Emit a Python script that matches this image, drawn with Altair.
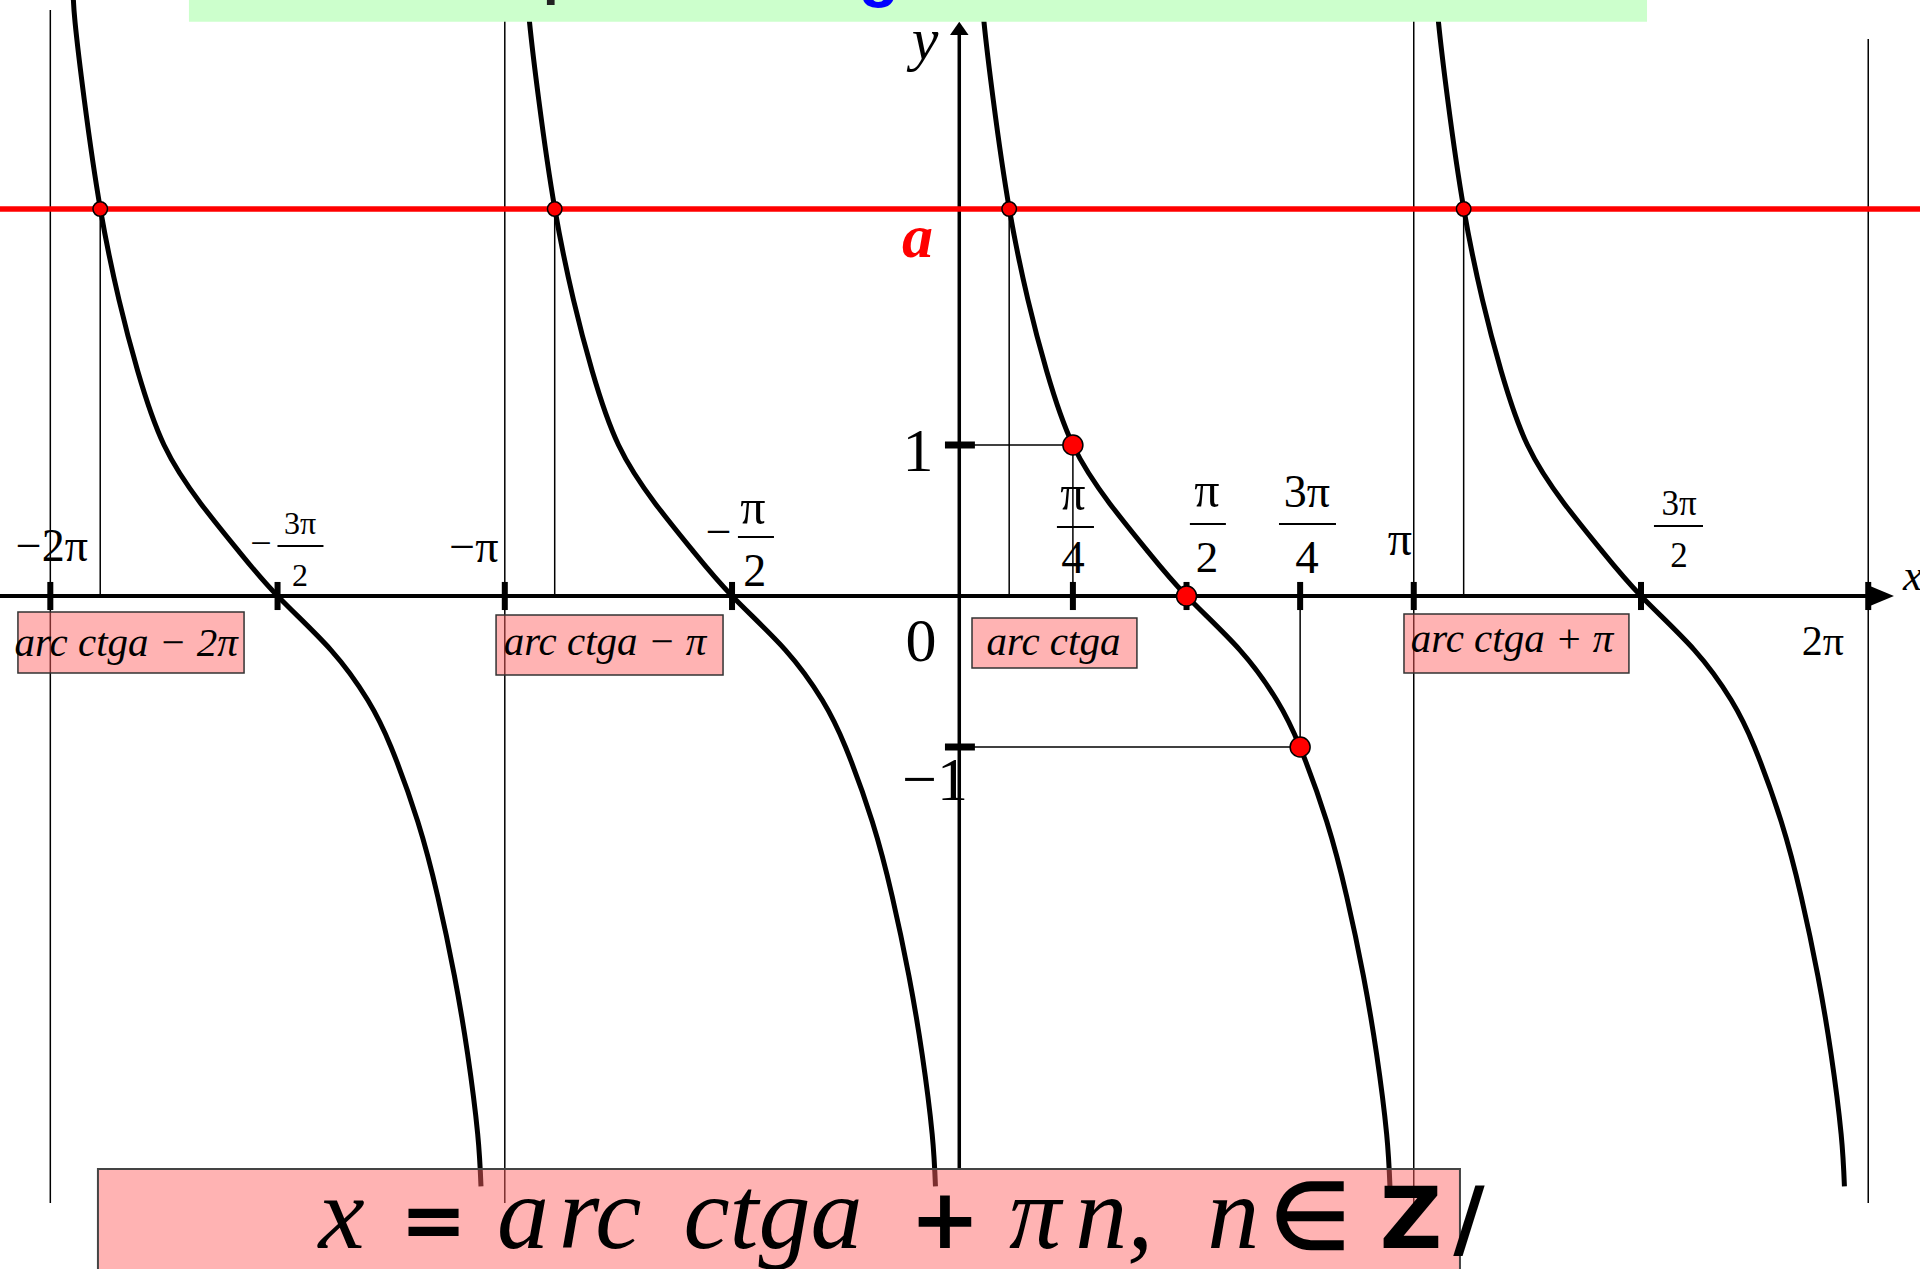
import math
import altair as alt
import pandas as pd

PI = math.pi

# one branch of y = ctg x on (0, pi) (offset from k*pi, value)
BRANCH_DX = [0.158, 0.171, 0.235, 0.346, 0.475, 0.604, 0.786, 1.042, 1.295, 1.571,
             1.940, 2.194, 2.355, 2.540, 2.678, 2.793, 2.885, 2.954, 2.977]
BRANCH_Y = [3.99, 3.80, 3.285, 2.563, 1.96, 1.49, 1.0, 0.61, 0.305, 0.0,
            -0.358, -0.689, -1.0, -1.494, -1.990, -2.513, -3.036, -3.561, -3.91]
PERIODS = [-2, -1, 0, 1]

A_VALUE = 2.563        # level of the line y = a
ARC_CTG_A = 0.345      # arcctg a

X_TICKS = [-2 * PI, -1.5 * PI, -PI, -0.5 * PI, 0.25 * PI, 0.5 * PI, 0.75 * PI, PI, 1.5 * PI, 2 * PI]
Y_TICKS = [1, -1]
KEY_X = [0.25 * PI, 0.5 * PI, 0.75 * PI]
KEY_Y = [1, 0, -1]
ASYMPTOTES = [-2 * PI, -PI, PI, 2 * PI]
ASYMPTOTE_TOP = [3.881, 3.947, 3.947, 3.689]
ASYMPTOTE_BOTTOM = -4.02

X_DOMAIN = [-6.631, 6.641]
Y_DOMAIN = [-4.457, 3.947]

xs = alt.Scale(domain=X_DOMAIN, nice=False, zero=False)
ys = alt.Scale(domain=Y_DOMAIN, nice=False, zero=False)


def X(f="x"):
    return alt.X(f"{f}:Q", scale=xs, axis=None)


def Y(f="y"):
    return alt.Y(f"{f}:Q", scale=ys, axis=None)


# ---------- curve branches ----------
curve_rows = []
for k in PERIODS:
    for i, (dx, yv) in enumerate(zip(BRANCH_DX, BRANCH_Y)):
        curve_rows.append({"x": k * PI + dx, "y": yv, "branch": k, "i": i})
curves = alt.Chart(pd.DataFrame(curve_rows)).mark_line(
    color="black", strokeWidth=5, interpolate="natural", clip=True
).encode(x=X(), y=Y(), detail="branch:N", order="i:Q")

# ---------- straight segments ----------
seg = []


def add(x, y, x2, y2, w, c="black"):
    seg.append({"x": x, "y": y, "x2": x2, "y2": y2, "w": w, "c": c})


for ax, top in zip(ASYMPTOTES, ASYMPTOTE_TOP):
    add(ax, top, ax, ASYMPTOTE_BOTTOM, 1.5)
# guides to the key points
add(0, 1, 0.25 * PI, 1, 1.5)
add(0.25 * PI, 0, 0.25 * PI, 1, 1.5)
add(0, -1, 0.75 * PI, -1, 1.5)
add(0.75 * PI, -1, 0.75 * PI, 0, 1.5)
for k in PERIODS:
    add(k * PI + ARC_CTG_A, 0, k * PI + ARC_CTG_A, A_VALUE, 1.5)
# axes
add(0, 3.715, 0, -3.788, 3.5)
add(X_DOMAIN[0], 0, 6.29, 0, 4)
# ticks
for tx in X_TICKS:
    add(tx, 0.093, tx, -0.093, 6)
for ty in Y_TICKS:
    add(-0.099, ty, 0.108, ty, 7)
# fraction bars of the tick labels
for x1, x2, yb in [(-4.713, -4.395, 0.331), (-1.530, -1.281, 0.391), (0.675, 0.931, 0.457),
                   (1.594, 1.843, 0.477), (2.210, 2.604, 0.477), (4.802, 5.141, 0.464)]:
    add(x1, yb, x2, yb, 2)

segments = alt.Chart(pd.DataFrame(seg)).mark_rule().encode(
    x=X(), x2="x2:Q", y=Y(), y2="y2:Q",
    color=alt.Color("c:N", scale=None), size=alt.Size("w:Q", scale=None),
)

red_line = alt.Chart(pd.DataFrame([{"x": X_DOMAIN[0], "x2": X_DOMAIN[1], "y": A_VALUE}])).mark_rule(
    color="#ff0000", strokeWidth=5.5
).encode(x=X(), x2="x2:Q", y=Y())

# ---------- points ----------
pts = [{"x": k * PI + ARC_CTG_A, "y": A_VALUE, "s": 210} for k in PERIODS]
pts += [{"x": kx, "y": ky, "s": 400} for kx, ky in zip(KEY_X, KEY_Y)]
dots = alt.Chart(pd.DataFrame(pts)).mark_circle(
    color="#ff0000", stroke="black", strokeWidth=1.5, opacity=1
).encode(x=X(), y=Y(), size=alt.Size("s:Q", scale=None))

# ---------- arrowheads ----------
arrow_y = alt.Chart(pd.DataFrame([{"x": 0, "y": 3.759}])).mark_point(
    shape="M0,-0.67L0.93,0.67L-0.93,0.67Z", filled=True, color="black", size=400, opacity=1
).encode(x=X(), y=Y())
arrow_x = alt.Chart(pd.DataFrame([{"x": 6.378, "y": 0}])).mark_point(
    shape="M1,0L-1,0.83L-1,-0.83Z", filled=True, color="black", size=576, opacity=1
).encode(x=X(), y=Y())

# ---------- boxes ----------
label_boxes = alt.Chart(pd.DataFrame([
    {"x": -6.507, "x2": -4.944, "y": -0.106, "y2": -0.510},
    {"x": -3.202, "x2": -1.633, "y": -0.126, "y2": -0.523},
    {"x": 0.088, "x2": 1.228, "y": -0.146, "y2": -0.477},
    {"x": 3.074, "x2": 4.629, "y": -0.119, "y2": -0.510},
])).mark_rect(fill="#ff6060", fillOpacity=0.48, stroke="#333333", strokeWidth=1.5).encode(
    x=X(), x2="x2:Q", y=Y(), y2="y2:Q")

formula_box = alt.Chart(pd.DataFrame([{"x": -5.954, "x2": 3.461, "y": -3.795, "y2": -4.6}])).mark_rect(
    fill="#ff6060", fillOpacity=0.48, stroke="#444444", strokeWidth=2, clip=True
).encode(x=X(), x2="x2:Q", y=Y(), y2="y2:Q")

title_box = alt.Chart(pd.DataFrame([{"x": -5.325, "x2": 4.754, "y": 3.803, "y2": 3.947}])).mark_rect(
    fill="#ccffcc", opacity=1
).encode(x=X(), x2="x2:Q", y=Y(), y2="y2:Q")


def text_layer(rows, **mark):
    df = pd.DataFrame(rows, columns=["t", "x", "y", "s", "c"])
    return alt.Chart(df).mark_text(align="center", baseline="alphabetic", **mark).encode(
        x=X(), y=Y(), text="t:N", size=alt.Size("s:Q", scale=None),
        color=alt.Color("c:N", scale=None))


serif_rows = [
    ["−2π", -6.272, 0.232, 46, "black"],
    ["−", -4.827, 0.265, 38, "black"],
    ["3π", -4.557, 0.411, 32, "black"],
    ["2", -4.557, 0.066, 32, "black"],
    ["−π", -3.355, 0.225, 46, "black"],
    ["−", -1.663, 0.325, 46, "black"],
    ["π", -1.426, 0.477, 50, "black"],
    ["2", -1.413, 0.066, 46, "black"],
    ["π", 0.786, 0.570, 50, "black"],
    ["4", 0.786, 0.152, 47, "black"],
    ["π", 1.712, 0.589, 50, "black"],
    ["2", 1.712, 0.159, 45, "black"],
    ["3π", 2.403, 0.589, 46, "black"],
    ["4", 2.403, 0.152, 47, "black"],
    ["π", 3.046, 0.272, 48, "black"],
    ["3π", 4.975, 0.536, 35, "black"],
    ["2", 4.975, 0.192, 35, "black"],
    ["2π", 5.970, -0.391, 42, "black"],
    ["1", -0.285, 0.828, 62, "black"],
    ["0", -0.265, -0.430, 62, "black"],
    ["−1", -0.168, -1.351, 62, "black"],
]
serif_text = text_layer(serif_rows, font="Liberation Serif")

italic_rows = [
    ["y", -0.237, 3.556, 60, "black"],
    ["arc ctga − 2π", -5.759, -0.397, 41, "black"],
    ["arc ctga − π", -2.449, -0.391, 41, "black"],
    ["arc ctga", 0.651, -0.391, 41, "black"],
    ["arc ctga + π", 3.821, -0.371, 41, "black"],
    ["x", -4.270, -4.318, 104, "black"],
    ["a", -3.016, -4.318, 104, "black"],
    ["rc", -2.483, -4.318, 104, "black"],
    ["ctga", -1.288, -4.318, 104, "black"],
    ["π", 0.523, -4.318, 104, "black"],
    ["n,", 1.072, -4.318, 104, "black"],
    ["n", 1.893, -4.318, 104, "black"],
]
italic_text = text_layer(italic_rows, font="Liberation Serif", fontStyle="italic")

axis_x_label = alt.Chart(pd.DataFrame([{"t": "x", "x": 6.523, "y": 0.040}])).mark_text(
    align="left", baseline="alphabetic", font="Liberation Serif", fontStyle="italic", fontSize=44
).encode(x=X(), y=Y(), text="t:N")

bold_rows = [
    ["=", -3.634, -4.318, 80, "black"],
    ["+", -0.099, -4.318, 84, "black"],
]
bold_text = text_layer(bold_rows, font="DejaVu Sans", fontWeight="bold")

member_text = text_layer([["∈", 2.424, -4.318, 92, "black"]],
                         font="Liberation Serif", fontWeight="bold")

sans_rows = [
    ["Z", 3.122, -4.318, 86, "black"],
    ["/", 3.523, -4.318, 86, "black"],
]
sans_text = text_layer(sans_rows, font="DejaVu Sans", fontWeight="bold")

a_label = text_layer([["a", -0.289, 2.245, 62, "#ff0000"]],
                     font="Liberation Serif", fontStyle="italic", fontWeight="bold")

title_rows = [
    ["р", -2.760, 3.995, 56, "#222222"],
    ["g", -0.555, 3.985, 66, "#0000ff"],
]
title_text = text_layer(title_rows, font="Liberation Sans", fontWeight="bold")

chart = alt.layer(
    segments, curves, red_line, dots, arrow_y, arrow_x,
    label_boxes, formula_box, title_box,
    serif_text, italic_text, axis_x_label, bold_text, member_text, sans_text, a_label, title_text,
).properties(
    width=1920, height=1269, padding=0,
    autosize=alt.AutoSizeParams(type="none"),
    background="white",
).configure_view(stroke=None)

chart.save("out.html", embed_options={"renderer": "svg", "actions": False})
